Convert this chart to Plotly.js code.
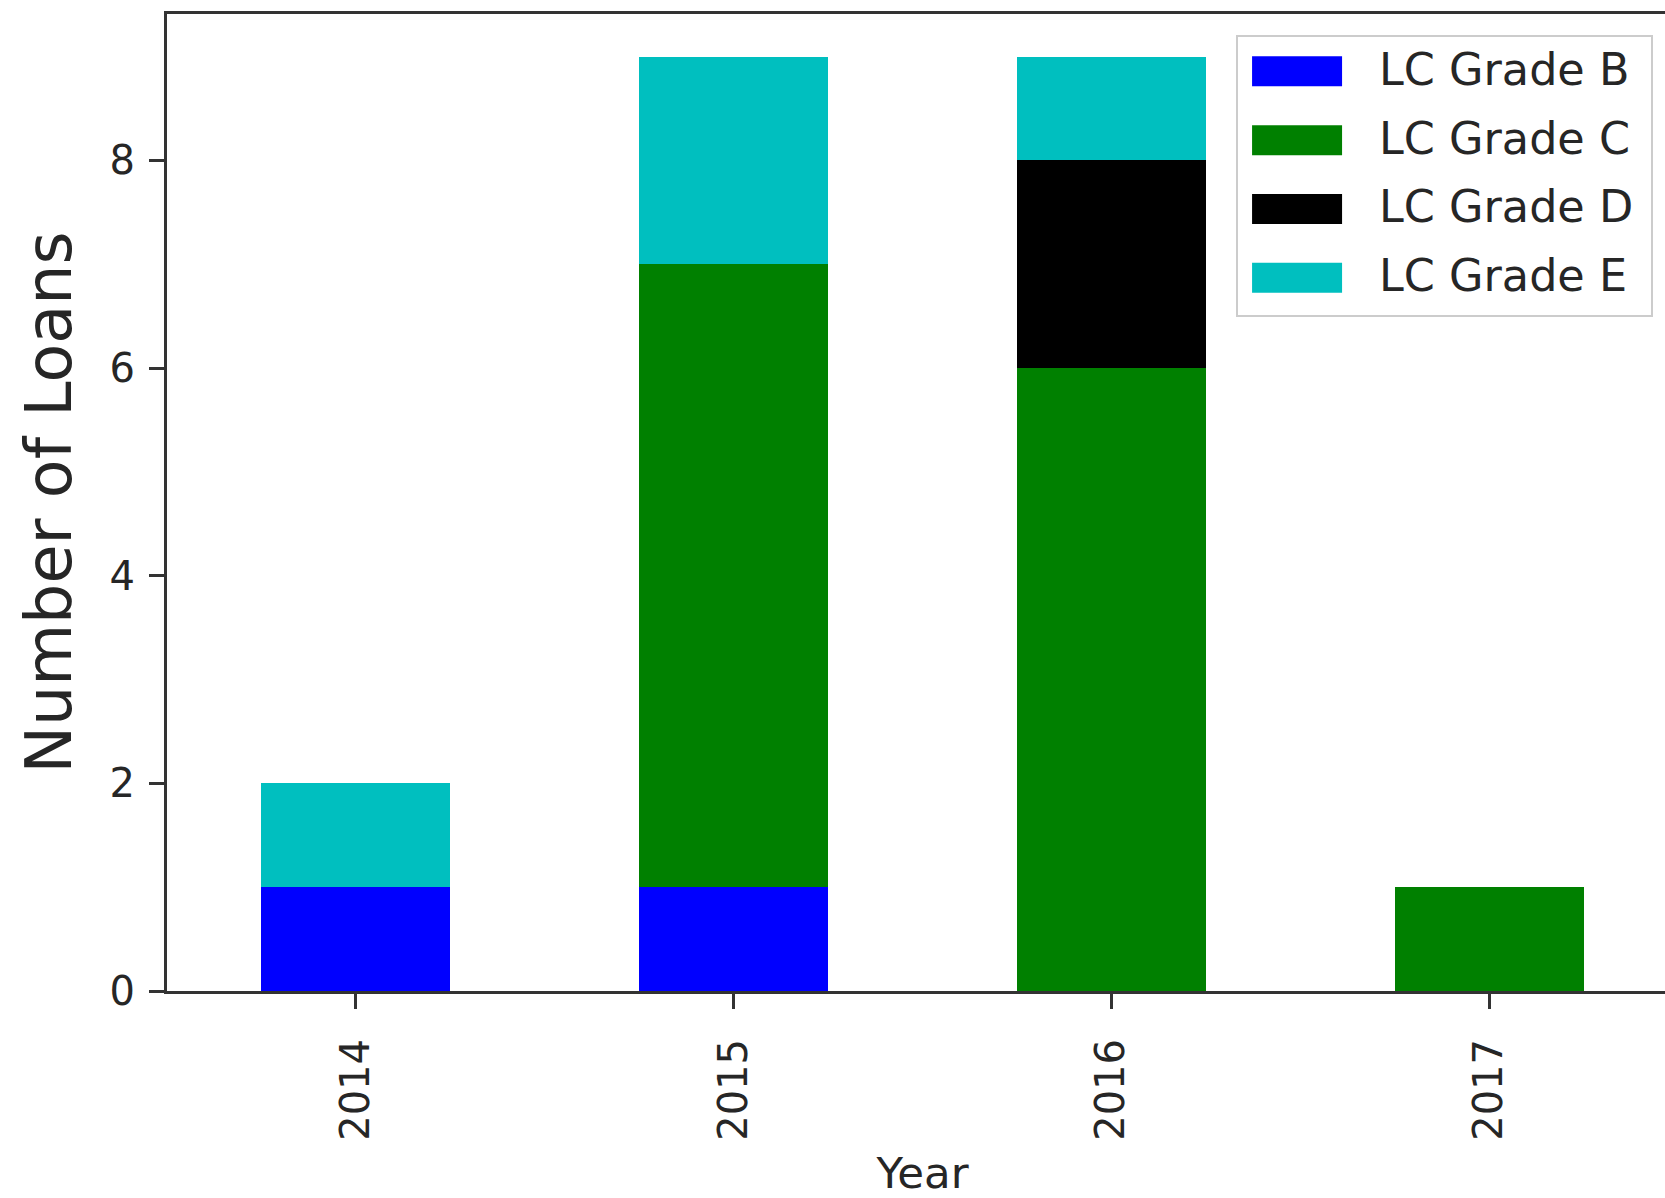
<!DOCTYPE html>
<html>
<head>
<meta charset="utf-8">
<script src="https://cdn.plot.ly/plotly-3.0.1.min.js"></script>
<style>
  html, body { margin: 0; padding: 0; overflow: hidden; background: #ffffff; }
  #chart { width: 1678px; height: 1198px; }
</style>
</head>
<body>
<div id="chart"></div>
<script>
// ---- data ----
const years = ['2014', '2015', '2016', '2017'];
const gradeNames = ['LC Grade B', 'LC Grade C', 'LC Grade D', 'LC Grade E'];
const gradeB = [1, 1, 0, 0];
const gradeC = [0, 6, 6, 1];
const gradeD = [0, 0, 2, 0];
const gradeE = [1, 2, 1, 0];
const yTicks = [0, 2, 4, 6, 8];

const seriesValues = [gradeB, gradeC, gradeD, gradeE];
const seriesColors = ['#0000ff', '#008000', '#000000', '#00bfbf'];

const traces = seriesValues.map((vals, i) => ({
  type: 'bar',
  x: years,
  y: vals,
  name: gradeNames[i],
  legendgroup: 'g' + i,
  width: 0.5,
  marker: { color: seriesColors[i], line: { width: 0 } },
  hoverinfo: 'x+y+name'
}));

const axisColor = '#333333';
const textColor = '#262626';
const fontFamily = 'DejaVu Sans, sans-serif';

const layout = {
  width: 1678,
  height: 1198,
  margin: { l: 167, r: 0, t: 14, b: 207 },
  paper_bgcolor: '#ffffff',
  plot_bgcolor: '#ffffff',
  barmode: 'stack',
  bargap: 0.5,
  font: { family: fontFamily, color: textColor },
  showlegend: true,
  legend: {
    x: 0.9835, xanchor: 'right',
    y: 0.9785, yanchor: 'top',
    bgcolor: 'rgba(255,255,255,0.8)',
    bordercolor: '#cccccc',
    borderwidth: 2,
    font: { family: fontFamily, size: 44.5, color: textColor },
    traceorder: 'grouped',
    tracegroupgap: 8,
    itemwidth: 143,
    itemclick: false,
    itemdoubleclick: false
  },
  xaxis: {
    type: 'category',
    range: [-0.5, 3.5],
    showline: true, linecolor: axisColor, linewidth: 3,
    mirror: true,
    ticks: 'outside', ticklen: 15, tickwidth: 3, tickcolor: axisColor,
    tickangle: -90,
    tickfont: { family: fontFamily, size: 40, color: textColor },
    ticklabelstandoff: 14,
    showgrid: false, zeroline: false,
    title: { text: 'Year', font: { family: fontFamily, size: 43.5, color: textColor }, standoff: 24 }
  },
  yaxis: {
    range: [0, 9.41],
    tickvals: yTicks,
    ticktext: yTicks.map(String),
    showline: true, linecolor: axisColor, linewidth: 3,
    mirror: false,
    ticks: 'outside', ticklen: 15, tickwidth: 3, tickcolor: axisColor,
    tickfont: { family: fontFamily, size: 40, color: textColor },
    ticklabelstandoff: 6,
    showgrid: false, zeroline: false,
    title: { text: 'Number of Loans', font: { family: fontFamily, size: 63.5, color: textColor }, standoff: 18 }
  }
};

Plotly.newPlot('chart', traces, layout, { displayModeBar: false }).then(function (gd) {
  // match the matplotlib legend: wide swatches, items slightly higher and text a bit left
  const items = gd.querySelectorAll('.legend .traces');
  items.forEach(function (item) {
    const tr = item.getAttribute('transform') || '';
    const mt = /translate\(\s*([-\d.e]+)[ ,]+([-\d.e]+)\s*\)/.exec(tr);
    if (mt) {
      item.setAttribute('transform', 'translate(' + parseFloat(mt[1]) + ',' + (parseFloat(mt[2]) - 5) + ')');
    }
    const txt = item.querySelector('text.legendtext');
    const pts = item.querySelectorAll('g.legendpoints path');
    if (!txt || !pts.length) return;
    const tx = parseFloat(txt.getAttribute('x') || '0');
    txt.setAttribute('x', tx - 12);
    const tb = txt.getBoundingClientRect();
    pts.forEach(function (p) {
      const m = p.getScreenCTM();
      if (!m) return;
      const right = tb.left - 37 - m.e;
      const left = right - 90;
      const cy = (tb.top + tb.bottom) / 2 - m.f + 2;
      p.setAttribute('d', 'M' + left + ',' + (cy - 15) + 'H' + right + 'V' + (cy + 15) + 'H' + left + 'Z');
      p.style.strokeWidth = '0px';
    });
  });
});
</script>
</body>
</html>
